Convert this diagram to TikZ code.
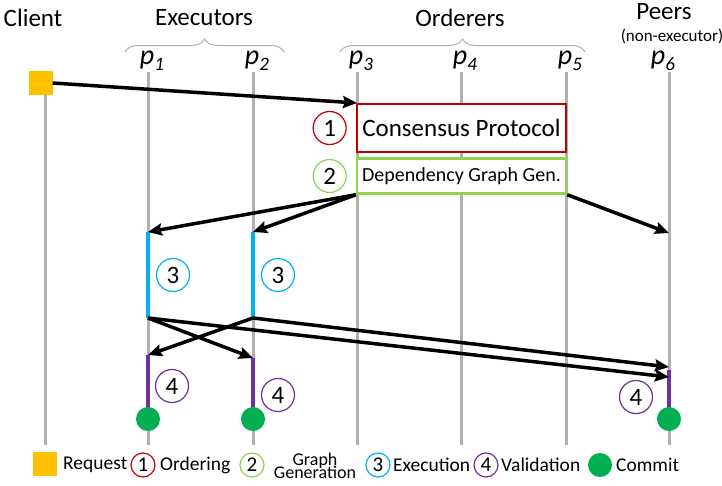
\documentclass[tikz,border=0pt]{standalone}
\usepackage{fontspec}
\setmainfont{Carlito}
\usetikzlibrary{arrows.meta, positioning, calc, decorations.pathreplacing}
\definecolor{lifegray}{HTML}{B0B0B0}
\definecolor{reqorange}{HTML}{FFC000}
\definecolor{ordred}{HTML}{C00000}
\definecolor{graphgreen}{HTML}{92D050}
\definecolor{execblue}{HTML}{00B0F0}
\definecolor{valpurple}{HTML}{7030A0}
\definecolor{commitgreen}{HTML}{00B050}

\newcommand{\fsz}[1]{\fontsize{#1}{#1}\selectfont}
\newcommand{\tightfont}{\fontsize{18}{13}\selectfont\setlength{\lineskiplimit}{-20pt}\relax}
\newcommand{\proc}[1]{\textit{p}\raisebox{-0.45ex}{\fsz{19}\textit{#1}}}

\begin{document}
\begin{tikzpicture}[x=1pt, y=-1pt, >={Stealth[length=14pt, width=12pt, inset=2pt]},
  lifeline/.style={lifegray, line width=3pt},
  msg/.style={->, line width=3.5pt},
  header/.style={font=\fsz{25}, inner sep=0pt},
  proclabel/.style={font=\fsz{28}, inner sep=0pt},
  brace/.style={lifegray, line width=1pt, decoration={brace, amplitude=13pt}, decorate},
  reqbox/.style={fill=reqorange, minimum size=24pt, inner sep=0pt},
  phasebox/.style={draw=#1, fill=white, line width=2.5pt, minimum width=209pt, inner sep=0pt},
  stepnum/.style={circle, draw=#1, fill=white, line width=1.2pt, minimum size=33pt, inner sep=0pt, font=\fsz{25}},
  legendnum/.style={stepnum=#1, minimum size=24pt, font=\fsz{21}},
  phasebar/.style={#1, line width=4pt},
  commitdot/.style={circle, fill=commitgreen, minimum size=24pt, inner sep=0pt},
  legendtext/.style={font=\fsz{19.5}, inner sep=0pt, anchor=west}]

\useasboundingbox (0,0) rectangle (722,485);

% Headers
\node[header] (client) at (33,18) {Client};
\node[header] (executors) at (204,18) {Executors};
\node[header] (orderers) at (460,18) {Orderers};
\node[header] (peers) at (664,12) {Peers};
\node[font=\fsz{17}, inner sep=0pt] (nonexec) at (672,36) {(non-executor)};

% Braces over the groups
\draw[brace] (125,52) -- (284,52);
\draw[brace] (340,52) -- (585,52);

% Lifelines
\foreach \i/\x/\dx in {1/148/4,2/253/4,3/357/4,4/461/4,5/566/4,6/669/-6} {
  \coordinate (p\i) at (\x,72);
  \coordinate (p\i end) at (\x,445);
  \draw[lifeline] (p\i) -- (p\i end);
  \node[proclabel] (lab\i) at (\x+\dx,61) {\proc{\i}};
}

% Client
\coordinate (c0) at (45,95);
\coordinate (c0end) at (45,445);
\draw[lifeline] (c0) -- (c0end);
\node[reqbox] (req) at (40.5,83) {};

% Request to the orderers
\coordinate (p3req) at (357,103);
\draw[msg] (req.east) -- (p3req);

% Ordering and graph generation
\node[phasebox=ordred, minimum height=48pt, font=\fsz{25}] (consensus) at (461.5,128) {Consensus Protocol};
\node[stepnum=ordred, left=9pt of consensus] (s1) {1};
\node[phasebox=graphgreen, minimum height=35pt, font=\fsz{20}] (depgraph) at (461.5,176) {Dependency Graph Gen.};
\node[stepnum=graphgreen, left=9pt of depgraph] (s2) {2};

% Execution on p1, p2
\coordinate (e1top) at (148,232);
\coordinate (e1bot) at (148,318);
\coordinate (e2top) at (253,232);
\coordinate (e2bot) at (253,318);
\draw[phasebar=execblue] (e1top) -- (e1bot);
\draw[phasebar=execblue] (e2top) -- (e2bot);
\node[stepnum=execblue] (s3a) at (173,275) {3};
\node[stepnum=execblue] (s3b) at (278,275) {3};

% Graph to executors and peer
\coordinate (p6get) at (669,233);
\draw[msg] (depgraph.south west) -- (e1top);
\draw[msg] (depgraph.south west) -- (e2top);
\draw[msg] (depgraph.south east) -- (p6get);

% Validation
\coordinate (v1top) at (148,355);
\coordinate (v2top) at (253,358);
\coordinate (v6top) at (669,370);
\coordinate (v1bot) at (148,412);
\coordinate (v2bot) at (253,412);
\coordinate (v6bot) at (669,412);
\draw[phasebar=valpurple] (v1top) -- (v1bot);
\draw[phasebar=valpurple] (v2top) -- (v2bot);
\draw[phasebar=valpurple] (v6top) -- (v6bot);
\node[stepnum=valpurple] (s4a) at (172,386) {4};
\node[stepnum=valpurple] (s4b) at (278,395) {4};
\node[stepnum=valpurple] (s4c) at (636,397) {4};

% Results exchange
\coordinate (p6a) at (669,367);
\coordinate (p6b) at (669,377);
\draw[msg] (e1bot) -- (v2top);
\draw[msg] (e2bot) -- (v1top);
\draw[msg] (e2bot) -- (p6a);
\draw[msg] (e1bot) -- (p6b);

% Commit
\node[commitdot] (d1) at (148,419) {};
\node[commitdot] (d2) at (253,419) {};
\node[commitdot] (d6) at (669,419) {};

% Legend
\node[reqbox] (lreq) at (45,464) {};
\node[legendtext] (lreqtxt) at (63,465) {Request};
\node[legendnum=ordred] (l1) at (143,465) {1};
\node[legendtext] (l1txt) at (160,465) {Ordering};
\node[legendnum=graphgreen] (l2) at (252,465) {2};
\node[legendtext, font=\tightfont, align=center, anchor=center] (l2txt) at (315,466) {Graph\\Generation};
\node[legendnum=execblue] (l3) at (378,465) {3};
\node[legendtext] (l3txt) at (393,465) {Execution};
\node[legendnum=valpurple] (l4) at (486,465) {4};
\node[legendtext] (l4txt) at (501,465) {Validation};
\node[commitdot] (ld) at (600,465) {};
\node[legendtext] (ldtxt) at (616,465) {Commit};

\end{tikzpicture}
\end{document}
